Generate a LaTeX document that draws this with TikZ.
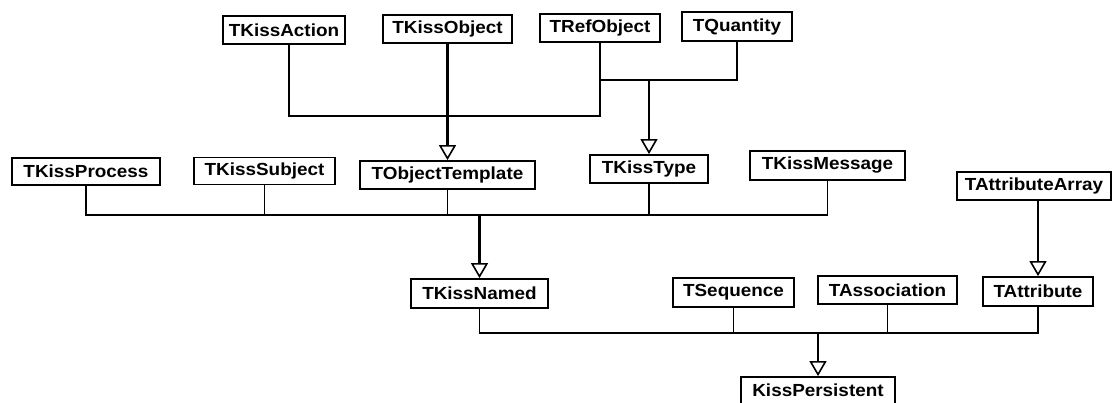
\documentclass[tikz,border=0pt]{standalone}
\usepackage{fontspec}
\setmainfont[FakeStretch=1.08]{Liberation Sans}
\usetikzlibrary{arrows.meta}
\tikzset{
  cls/.style={draw=black, line width=1.8pt, fill=white, inner sep=0pt,
    font=\fontsize{17.5}{17.5}\selectfont\bfseries, text=black},
  conn/.style={draw=black, line width=1.8pt, line join=miter},
  trunk/.style={draw=black, line width=2.4pt,
    -{Triangle[open, length=15pt, width=17pt, line width=1.6pt]}},
}
\newcommand{\cbox}[6]{\node[cls, minimum width=#4pt, minimum height=#5pt] (#1) at (#2,#3) {#6};}
\begin{document}
\begin{tikzpicture}[x=1pt,y=-1pt]
\fill[white] (0,0) rectangle (1112,403);
\useasboundingbox (0,0) rectangle (1112,403);
% classes
\cbox{TKissAction}{284}{30}{122}{28}{TKissAction}
\cbox{TKissObject}{447.5}{29}{129}{28}{TKissObject}
\cbox{TRefObject}{600}{28}{120}{28}{TRefObject}
\cbox{TQuantity}{737}{26.5}{110}{29}{TQuantity}
\cbox{TKissProcess}{86}{171.5}{148}{27}{TKissProcess}
\cbox{TKissSubject}{264.5}{171}{141}{27}{TKissSubject}
\cbox{TObjectTemplate}{447.5}{175}{175}{28}{TObjectTemplate}
\cbox{TKissType}{649}{169}{118}{28}{TKissType}
\cbox{TKissMessage}{827.5}{165.5}{155}{29}{TKissMessage}
\cbox{TAttributeArray}{1034}{186}{154}{28}{TAttributeArray}
\cbox{TKissNamed}{479.5}{293.5}{137}{29}{TKissNamed}
\cbox{TSequence}{733.5}{292.5}{121}{29}{TSequence}
\cbox{TAssociation}{887.5}{290}{139}{28}{TAssociation}
\cbox{TAttribute}{1038}{291.5}{110}{29}{TAttribute}
\cbox{KissPersistent}{818}{390.5}{154}{27}{KissPersistent}
% junction levels
\coordinate (jA) at (0,80);
\coordinate (jB) at (0,116);
\coordinate (jC) at (0,215);
\coordinate (jD) at (0,333);
% top level
\draw[conn] (TRefObject.south) -- (TRefObject.south |- jB) -| ([xshift=5pt]TKissAction.south);
\draw[conn] (TRefObject.south |- jA) -| (TQuantity.south);
\draw[trunk] (TKissType.north |- jA) -- (TKissType.north);
\draw[trunk, line width=2.1pt] (TKissObject.south) -- (TObjectTemplate.north);
% middle level
\draw[conn] (TKissProcess.south) |- (jC -| TKissMessage.south) -- (TKissMessage.south);
\draw[conn] (TKissSubject.south) -- (TKissSubject.south |- jC);
\draw[conn] (TObjectTemplate.south) -- (TObjectTemplate.south |- jC);
\draw[conn] (TKissType.south) -- (TKissType.south |- jC);
\draw[trunk] (TKissNamed.north |- jC) -- (TKissNamed.north);
% right
\draw[trunk, line width=2.1pt] ([xshift=4pt]TAttributeArray.south) -- (TAttribute.north);
% bottom level
\draw[conn] (TKissNamed.south) |- (jD -| TAttribute.south) -- (TAttribute.south);
\draw[conn] (TSequence.south) -- (TSequence.south |- jD);
\draw[conn] (TAssociation.south) -- (TAssociation.south |- jD);
\draw[trunk] (KissPersistent.north |- jD) -- (KissPersistent.north);
\end{tikzpicture}
\end{document}
